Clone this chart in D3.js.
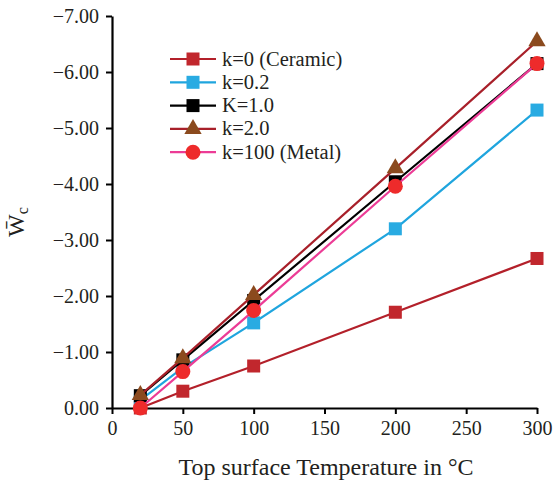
<!DOCTYPE html>
<html><head><meta charset="utf-8">
<script src="https://cdn.jsdelivr.net/npm/d3@7"></script>
<style>body{margin:0;background:#fff}text{font-family:"Liberation Serif","Times New Roman",serif;fill:#231F20}</style>
</head><body><svg id="c" width="555" height="488"></svg>
<script>
const temps = [20, 50, 100, 200, 300];
const k0 = [0, -0.30, -0.75, -1.71, -2.67];
const k02 = [-0.14, -0.72, -1.52, -3.20, -5.32];
const k1 = [-0.22, -0.86, -1.92, -4.04, -6.15];
const k2 = [-0.23, -0.89, -2.02, -4.28, -6.55];
const k100 = [0, -0.65, -1.74, -3.96, -6.15];
const seriesNames = ["k=0 (Ceramic)", "k=0.2", "K=1.0", "k=2.0", "k=100 (Metal)"];
const xTicks = [0, 50, 100, 150, 200, 250, 300];
const yTicks = [0, -1, -2, -3, -4, -5, -6, -7];

const series = [
  {name: seriesNames[0], vals: k0, line: "#B3202A", fill: "#C1272D", shape: "square"},
  {name: seriesNames[1], vals: k02, line: "#1FA5DE", fill: "#29ABE2", shape: "square"},
  {name: seriesNames[2], vals: k1, line: "#000000", fill: "#000000", shape: "square"},
  {name: seriesNames[3], vals: k2, line: "#A8202A", fill: "#8B4A1E", shape: "triangle"},
  {name: seriesNames[4], vals: k100, line: "#EC3C96", fill: "#EE2B2B", shape: "circle"}
];

const svg = d3.select("#c");
const x = d3.scaleLinear().domain([0, 300]).range([112, 537]);
const y = d3.scaleLinear().domain([0, -7]).range([408, 16]);
const fmtY = v => (v < 0 ? "\u2212" : "") + Math.abs(v).toFixed(2);

const xAxis = svg.append("g").attr("transform", "translate(0,408)")
  .call(d3.axisBottom(x).tickValues(xTicks).tickSize(6).tickSizeOuter(0).tickPadding(7));
const yAxis = svg.append("g").attr("transform", "translate(112,0)")
  .call(d3.axisLeft(y).tickValues(yTicks).tickFormat(fmtY).tickSize(6).tickSizeOuter(0).tickPadding(7));
[xAxis, yAxis].forEach(a => {
  a.select(".domain").attr("stroke", "#000").attr("stroke-width", 2.2);
  a.selectAll(".tick line").attr("stroke", "#000").attr("stroke-width", 2);
  a.selectAll("text").attr("font-size", 20).attr("font-family", "Liberation Serif").attr("fill", "#231F20");
});

function drawMarker(g, shape, fill, cx, cy) {
  if (shape === "square") {
    g.append("rect").attr("x", cx - 6.5).attr("y", cy - 6.5).attr("width", 13).attr("height", 13).attr("fill", fill);
  } else if (shape === "circle") {
    g.append("circle").attr("cx", cx).attr("cy", cy).attr("r", 7.5).attr("fill", fill);
  } else {
    g.append("path").attr("d", d3.symbol(d3.symbolTriangle, 130)()).attr("transform", `translate(${cx},${cy})`).attr("fill", fill);
  }
}

const line = d3.line().x(d => x(d[0])).y(d => y(d[1]));
series.forEach(s => {
  const pts = temps.map((t, i) => [t, s.vals[i]]);
  const g = svg.append("g");
  g.append("path").attr("d", line(pts)).attr("fill", "none").attr("stroke", s.line).attr("stroke-width", 2.2);
  pts.forEach(p => drawMarker(g, s.shape, s.fill, x(p[0]), y(p[1])));
});

// legend
const lg = svg.append("g");
series.forEach((s, i) => {
  const yy = 59 + i * 23.3;
  lg.append("line").attr("x1", 170).attr("x2", 216).attr("y1", yy).attr("y2", yy).attr("stroke", s.line).attr("stroke-width", 2.2);
  drawMarker(lg, s.shape, s.fill, 193, yy);
  lg.append("text").attr("x", 222).attr("y", yy + 6.5).attr("font-size", 20.5).text(s.name);
});

svg.append("text").attr("x", 326).attr("y", 475).attr("text-anchor", "middle").attr("font-size", 24)
  .text("Top surface Temperature in \u00B0C");

const yl = svg.append("text").attr("transform", "translate(24,222) rotate(-90)").attr("text-anchor", "middle").attr("font-size", 24);
yl.append("tspan").text("W\u0304");
yl.append("tspan").attr("font-size", 16).attr("dy", 4).text("c");
</script></body></html>
